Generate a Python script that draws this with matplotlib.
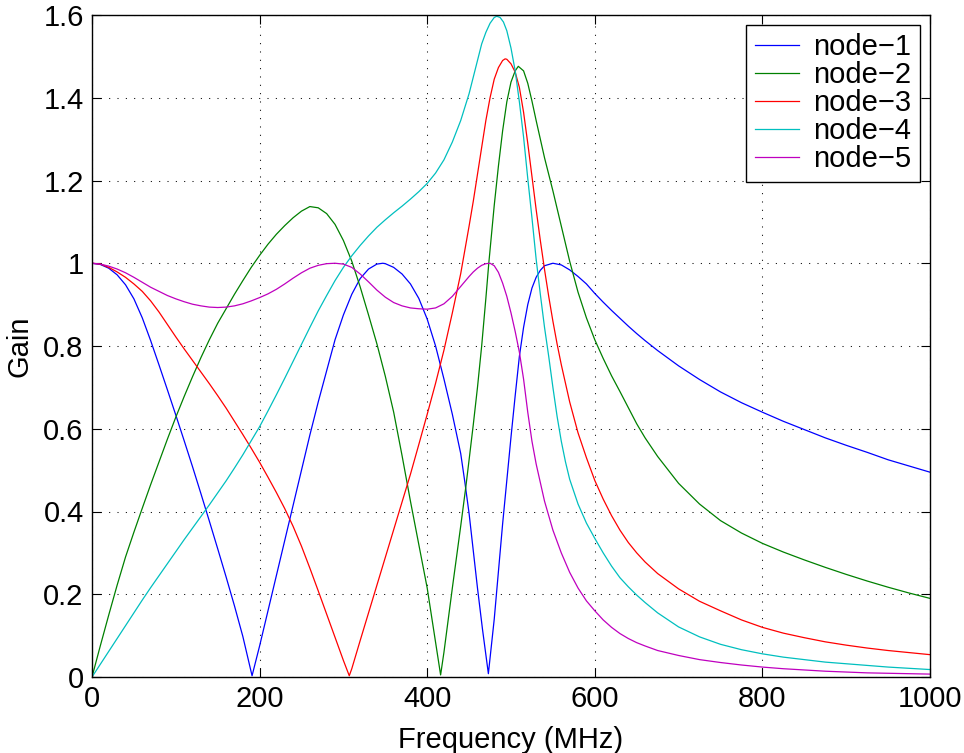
import matplotlib
matplotlib.use("Agg")
import matplotlib.pyplot as plt
from matplotlib.ticker import FixedLocator

plt.rcParams['font.family'] = ['Liberation Sans', 'DejaVu Sans']

# Frequency response at each node of the ladder (frequency in MHz, gain)
node1_freq = [0, 10, 20, 30, 40, 50, 60, 70, 80, 90, 100, 110, 120, 130, 140, 150, 160, 170,
              180, 191, 200, 210, 220, 230, 240, 250, 260, 270, 280, 290, 300, 310, 320, 330,
              340, 347, 350, 360, 370, 380, 390, 400, 410, 420, 430, 440, 445, 450, 455, 460,
              466, 473, 480, 490, 500, 505, 510, 515, 520, 525, 530, 535, 540, 550, 560, 570,
              580, 590, 600, 610, 620, 630, 640, 650, 660, 675, 700, 725, 750, 775, 800, 825,
              850, 875, 900, 925, 950, 975, 1000]
node1_gain = [1.0, 0.997, 0.988, 0.972, 0.948, 0.914, 0.868, 0.813, 0.754, 0.694, 0.633,
              0.571, 0.508, 0.443, 0.377, 0.31, 0.242, 0.172, 0.098, 0.003, 0.075, 0.16,
              0.245, 0.33, 0.415, 0.5, 0.585, 0.665, 0.74, 0.815, 0.875, 0.925, 0.963, 0.986,
              0.998, 1.0, 0.999, 0.99, 0.974, 0.95, 0.915, 0.865, 0.8, 0.72, 0.635, 0.54, 0.47,
              0.395, 0.305, 0.215, 0.115, 0.008, 0.14, 0.37, 0.58, 0.68, 0.775, 0.845, 0.9,
              0.94, 0.966, 0.983, 0.994, 1.0, 0.996, 0.984, 0.968, 0.95, 0.927, 0.906, 0.886,
              0.867, 0.848, 0.83, 0.813, 0.789, 0.752, 0.719, 0.689, 0.663, 0.64, 0.618,
              0.598, 0.578, 0.56, 0.543, 0.525, 0.51, 0.495]

node2_freq = [0, 10, 20, 30, 40, 50, 60, 70, 80, 90, 100, 110, 120, 130, 140, 150, 160, 170,
              180, 190, 200, 210, 220, 230, 240, 250, 260, 270, 280, 290, 300, 310, 320, 330,
              340, 350, 360, 370, 380, 390, 400, 408, 416, 420, 430, 440, 446, 450, 455, 460,
              465, 470, 473.5, 480, 485, 490, 495, 500, 505, 508.7, 515, 520, 525, 530, 540,
              550, 560, 570, 580, 590, 600, 610, 620, 630, 640, 650, 660, 675, 700, 725, 750,
              775, 800, 825, 850, 875, 900, 925, 950, 975, 1000]
node2_gain = [0.0, 0.076, 0.15, 0.222, 0.29, 0.35, 0.408, 0.465, 0.52, 0.575, 0.628, 0.678,
              0.726, 0.772, 0.815, 0.855, 0.89, 0.925, 0.958, 0.99, 1.019, 1.046, 1.07, 1.091,
              1.11, 1.126, 1.137, 1.134, 1.12, 1.094, 1.055, 1.005, 0.943, 0.875, 0.805,
              0.727, 0.64, 0.535, 0.425, 0.32, 0.215, 0.11, 0.005, 0.06, 0.215, 0.365, 0.458,
              0.525, 0.61, 0.7, 0.8, 0.915, 1.0, 1.14, 1.235, 1.32, 1.39, 1.438, 1.465, 1.476,
              1.465, 1.435, 1.392, 1.345, 1.255, 1.175, 1.09, 1.005, 0.93, 0.868, 0.815, 0.77,
              0.728, 0.69, 0.651, 0.612, 0.578, 0.533, 0.468, 0.418, 0.378, 0.348, 0.323,
              0.302, 0.283, 0.265, 0.248, 0.232, 0.217, 0.203, 0.19]

node3_freq = [0, 10, 20, 30, 40, 50, 60, 70, 80, 90, 100, 110, 120, 130, 140, 150, 160, 170,
              180, 190, 200, 210, 220, 230, 240, 250, 260, 270, 280, 290, 300, 307, 310, 320,
              330, 340, 350, 360, 370, 380, 390, 400, 410, 420, 430, 440, 450, 455, 460, 465,
              470, 475, 480, 485, 490, 493, 495, 500, 505, 510, 515, 520, 525, 530, 535, 540,
              545, 550, 555, 560, 570, 580, 590, 600, 610, 620, 630, 640, 650, 660, 675, 700,
              725, 750, 775, 800, 825, 850, 875, 900, 925, 950, 975, 1000]
node3_gain = [1.0, 0.998, 0.99, 0.979, 0.966, 0.95, 0.932, 0.909, 0.882, 0.852, 0.822, 0.793,
              0.765, 0.737, 0.709, 0.68, 0.65, 0.618, 0.586, 0.553, 0.519, 0.483, 0.446,
              0.407, 0.364, 0.316, 0.263, 0.208, 0.152, 0.096, 0.04, 0.003, 0.02, 0.088,
              0.155, 0.222, 0.289, 0.356, 0.423, 0.49, 0.562, 0.635, 0.71, 0.79, 0.88, 0.975,
              1.09, 1.15, 1.215, 1.28, 1.345, 1.4, 1.445, 1.473, 1.49, 1.494, 1.493, 1.482,
              1.462, 1.425, 1.365, 1.29, 1.21, 1.13, 1.055, 0.985, 0.92, 0.86, 0.805, 0.755,
              0.665, 0.59, 0.53, 0.475, 0.43, 0.39, 0.355, 0.325, 0.3, 0.278, 0.25, 0.213,
              0.183, 0.16, 0.138, 0.12, 0.106, 0.095, 0.085, 0.077, 0.07, 0.064, 0.059, 0.054]

node4_freq = [0, 10, 20, 30, 40, 50, 60, 70, 80, 90, 100, 110, 120, 130, 140, 150, 160, 170,
              180, 190, 200, 210, 220, 230, 240, 250, 260, 270, 280, 290, 300, 310, 320, 330,
              340, 350, 360, 370, 380, 390, 400, 410, 420, 430, 440, 450, 460, 465, 470, 475,
              480, 483, 487, 491, 495, 500, 505, 510, 515, 520, 525, 530, 535, 540, 545, 550,
              555, 560, 565, 570, 580, 590, 600, 610, 620, 630, 640, 650, 660, 675, 700, 725,
              750, 775, 800, 825, 850, 875, 900, 925, 950, 975, 1000]
node4_gain = [0.0, 0.031, 0.062, 0.093, 0.124, 0.155, 0.186, 0.216, 0.245, 0.274, 0.303,
              0.332, 0.36, 0.388, 0.416, 0.445, 0.474, 0.505, 0.537, 0.571, 0.605, 0.643,
              0.682, 0.722, 0.763, 0.804, 0.845, 0.885, 0.922, 0.958, 0.99, 1.018, 1.043,
              1.066, 1.087, 1.105, 1.122, 1.138, 1.155, 1.173, 1.193, 1.218, 1.25, 1.293,
              1.345, 1.41, 1.49, 1.53, 1.558, 1.58, 1.594, 1.597, 1.594, 1.583, 1.562, 1.52,
              1.465, 1.39, 1.305, 1.205, 1.11, 1.01, 0.925, 0.845, 0.775, 0.7, 0.63, 0.57,
              0.52, 0.478, 0.418, 0.372, 0.335, 0.3, 0.268, 0.24, 0.218, 0.198, 0.18, 0.155,
              0.121, 0.097, 0.079, 0.066, 0.056, 0.048, 0.042, 0.036, 0.032, 0.028, 0.024,
              0.021, 0.018]

node5_freq = [0, 10, 20, 30, 40, 50, 60, 70, 80, 90, 100, 110, 120, 130, 140, 150, 160, 170,
              180, 190, 200, 210, 220, 230, 240, 250, 260, 270, 280, 290, 300, 310, 320, 330,
              340, 350, 360, 370, 380, 390, 400, 410, 420, 430, 440, 450, 455, 460, 465, 470,
              475, 480, 485, 490, 495, 500, 505, 510, 515, 520, 525, 530, 535, 540, 545, 550,
              560, 570, 580, 590, 600, 610, 620, 630, 640, 650, 660, 675, 700, 725, 750, 775,
              800, 825, 850, 875, 900, 925, 950, 975, 1000]
node5_gain = [1.0, 0.998, 0.993, 0.986, 0.977, 0.966, 0.954, 0.942, 0.932, 0.922, 0.914,
              0.907, 0.901, 0.897, 0.894, 0.893, 0.894, 0.897, 0.902, 0.909, 0.917, 0.926,
              0.937, 0.95, 0.964, 0.977, 0.988, 0.995, 0.999, 1.0, 0.998, 0.99, 0.974, 0.955,
              0.935, 0.918, 0.905, 0.897, 0.892, 0.89, 0.889, 0.892, 0.902, 0.92, 0.944, 0.968,
              0.979, 0.988, 0.995, 0.999, 1.0, 0.994, 0.978, 0.952, 0.92, 0.88, 0.835, 0.785,
              0.72, 0.64, 0.57, 0.515, 0.47, 0.425, 0.39, 0.355, 0.3, 0.253, 0.215, 0.184,
              0.16, 0.138, 0.12, 0.105, 0.093, 0.083, 0.075, 0.064, 0.052, 0.042, 0.035, 0.029,
              0.024, 0.02, 0.017, 0.014, 0.012, 0.01, 0.009, 0.008, 0.007]

series = [
    ("node\u22121", node1_freq, node1_gain, (0, 0, 1)),
    ("node\u22122", node2_freq, node2_gain, (0, 0.5, 0)),
    ("node\u22123", node3_freq, node3_gain, (1, 0, 0)),
    ("node\u22124", node4_freq, node4_gain, (0, 0.75, 0.75)),
    ("node\u22125", node5_freq, node5_gain, (0.75, 0, 0.75)),
]

x_ticks = [0, 200, 400, 600, 800, 1000]
y_ticks = [0, 0.2, 0.4, 0.6, 0.8, 1.0, 1.2, 1.4, 1.6]
y_tick_labels = ["0", "0.2", "0.4", "0.6", "0.8", "1", "1.2", "1.4", "1.6"]

fig = plt.figure(figsize=(9.64, 7.53), dpi=100)
ax = fig.add_axes([92 / 964, 1 - 677 / 753, (930 - 92) / 964, (677 - 15) / 753])

for name, f, g, c in series:
    ax.plot(f, g, color=c, linewidth=0.9, label=name, solid_joinstyle='round')

ax.set_xlim(0, 1000)
ax.set_ylim(0, 1.6)
ax.xaxis.set_major_locator(FixedLocator(x_ticks))
ax.set_yticks(y_ticks)
ax.set_yticklabels(y_tick_labels)
ax.tick_params(direction='in', top=True, right=True, length=6.5, width=0.8,
               labelsize=21, pad=6)
ax.grid(True, color='black', linestyle=(0, (1, 7)), linewidth=0.75)
for sp in ax.spines.values():
    sp.set_linewidth(1.0)

ax.set_xlabel("Frequency (MHz)", fontsize=21, labelpad=9)
ax.set_ylabel("Gain", fontsize=21, labelpad=7)

leg = ax.legend(loc='upper right', fontsize=21, fancybox=False, framealpha=1,
                edgecolor='black', borderaxespad=0.33, handlelength=1.5,
                handletextpad=0.5, labelspacing=0.0, borderpad=0.3)
leg.get_frame().set_linewidth(1.0)

fig.savefig("out.png", dpi=100)
